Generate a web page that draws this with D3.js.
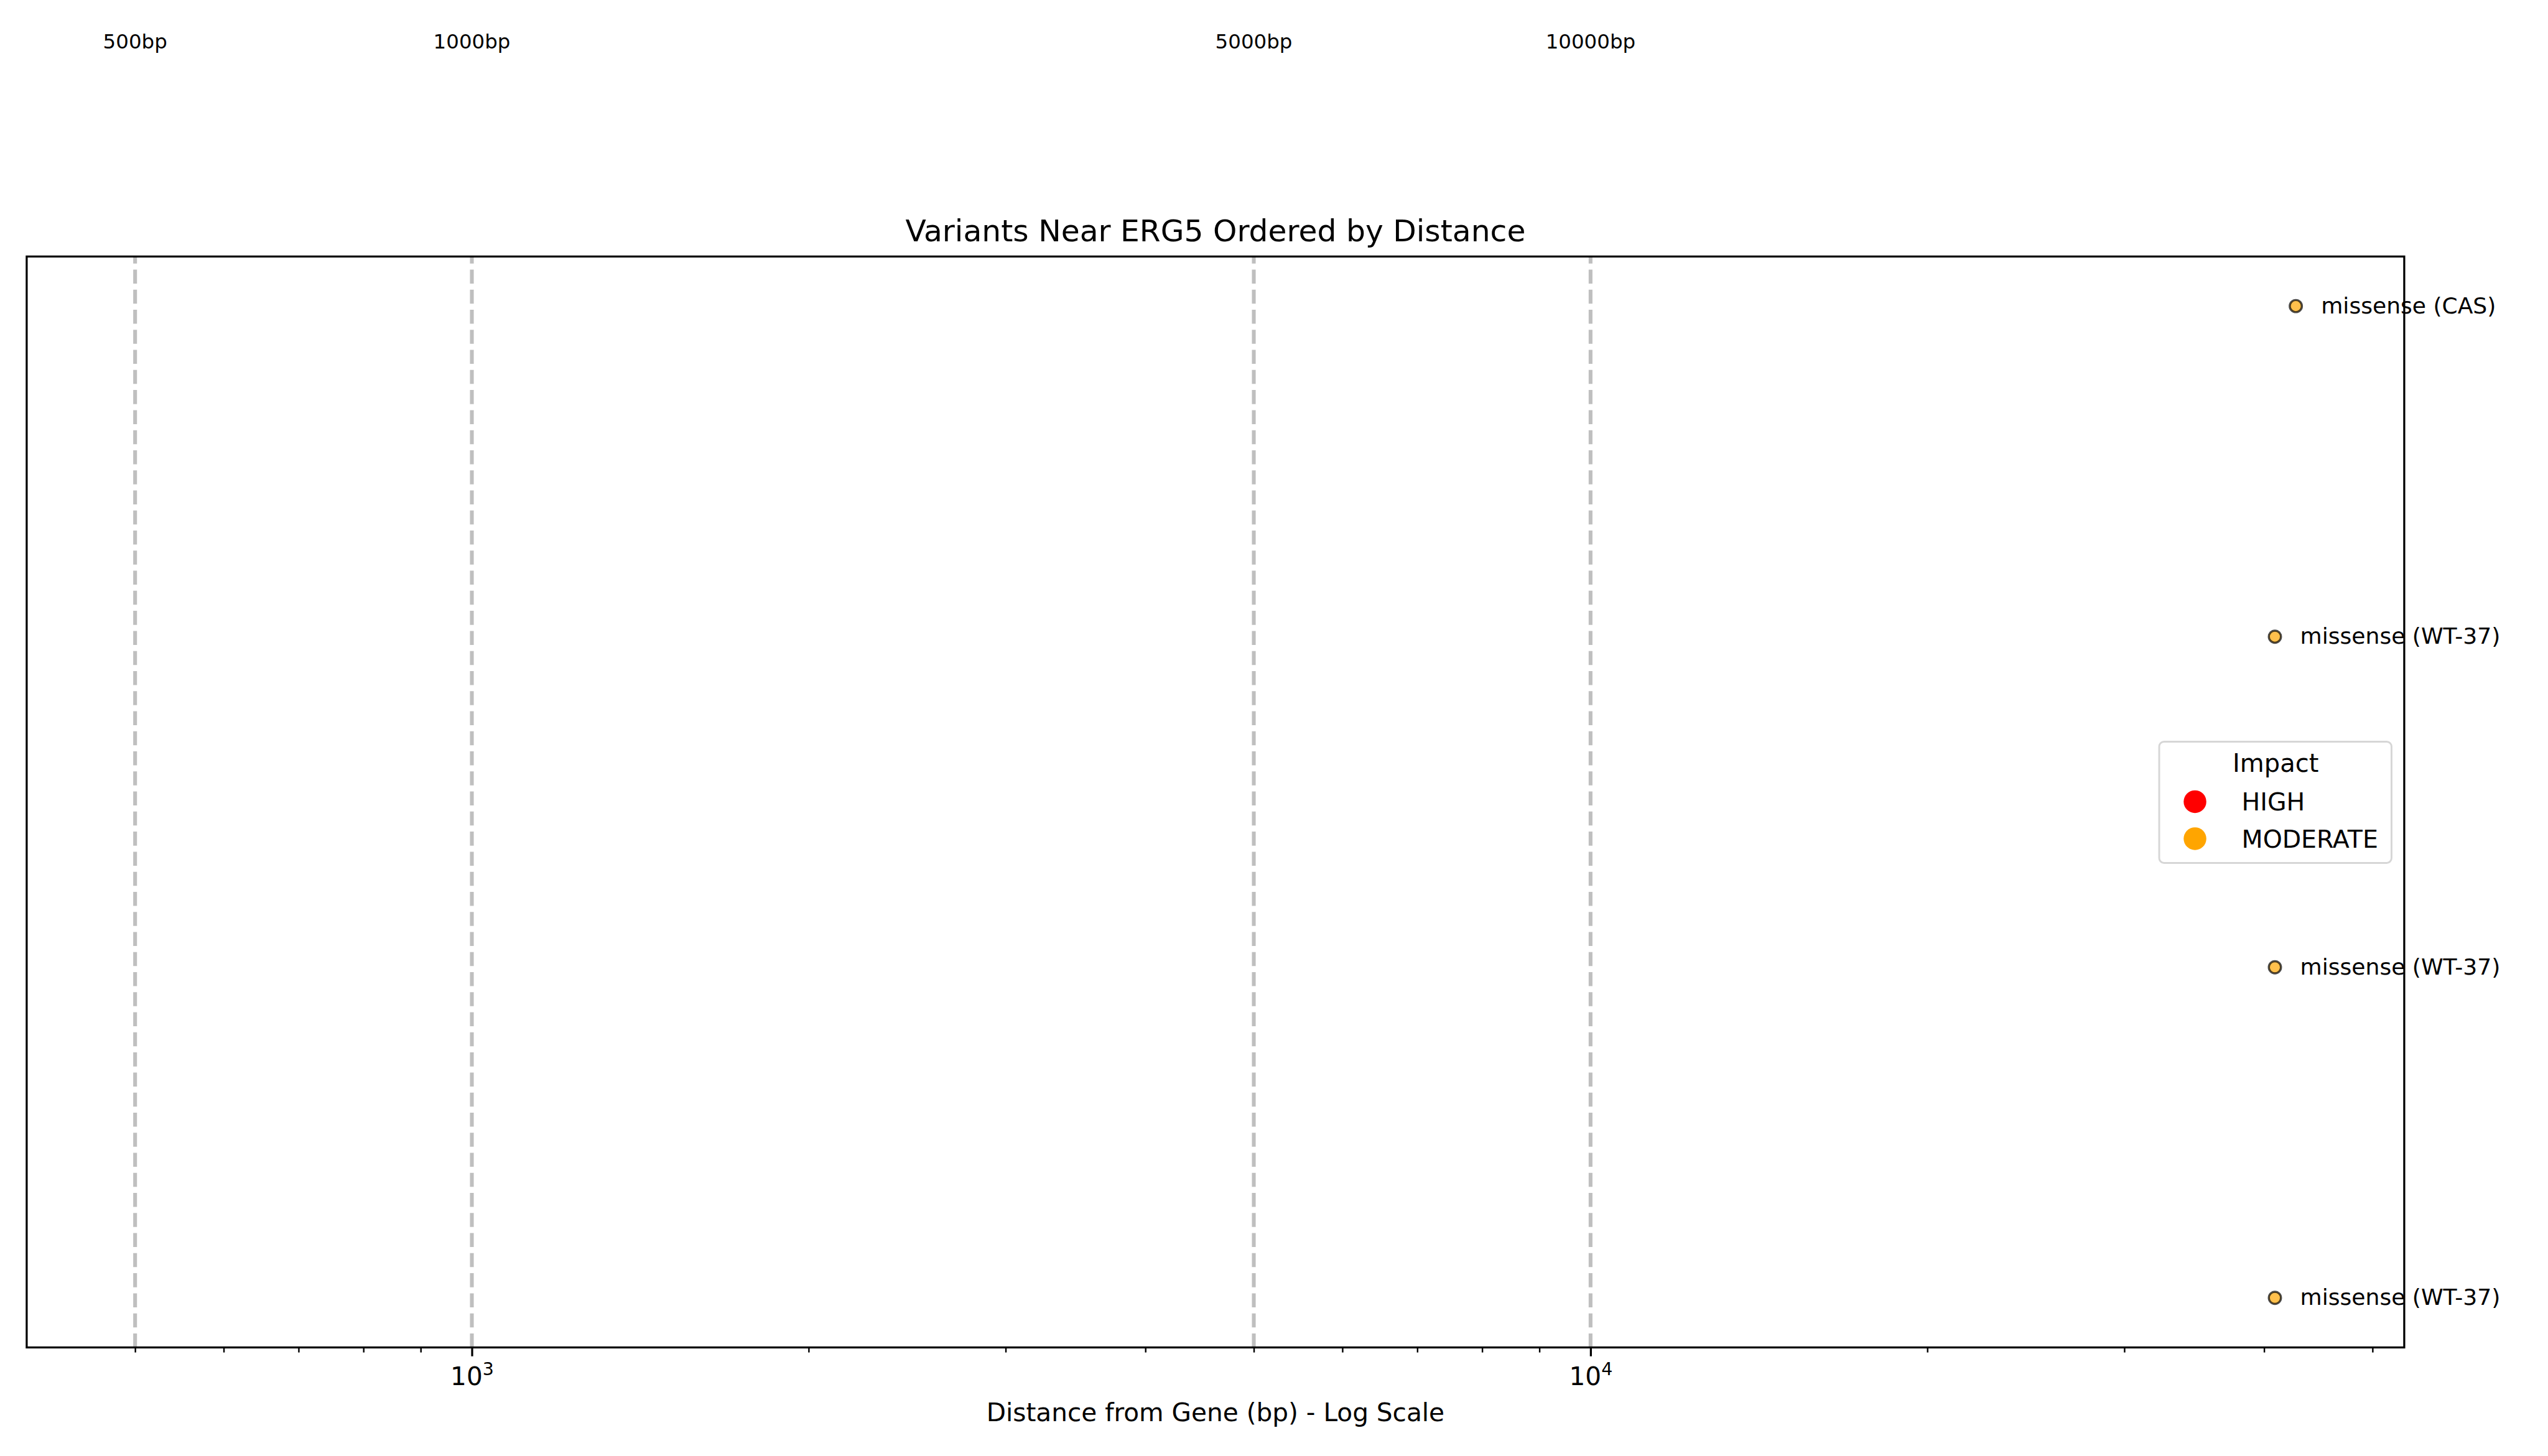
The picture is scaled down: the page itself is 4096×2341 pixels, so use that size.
<!DOCTYPE html>
<html>
<head>
<meta charset="utf-8">
<script src="https://cdn.jsdelivr.net/npm/d3@7"></script>
<style>
  html, body { margin: 0; padding: 0; background: #ffffff; }
  svg { display: block; }
  text { font-family: "DejaVu Sans", sans-serif; fill: #000; }
</style>
</head>
<body>
<script>
// ---- data ----
const variantLabels = ["missense (WT-37)", "missense (WT-37)", "missense (WT-37)", "missense (CAS)"];
const variantDistances = [40900, 40900, 40900, 42700];
const variantImpacts = ["MODERATE", "MODERATE", "MODERATE", "MODERATE"];
const refLineValues = [500, 1000, 5000, 10000];
const refLineLabels = ["500bp", "1000bp", "5000bp", "10000bp"];
const majorTicks = [1000, 10000];
const majorTickExp = ["3", "4"];
const minorTicks = [500, 600, 700, 800, 900, 2000, 3000, 4000, 5000, 6000, 7000, 8000, 9000, 20000, 30000, 40000, 50000];
const impactNames = ["HIGH", "MODERATE"];
const impactColors = ["#ff0000", "#ffa500"];
const xDomain = [400, 53375];

// ---- layout (reference pixel units, scaled by 0.975) ----
const S = 0.975;
const W = 4096, H = 2341;
const plot = { left: 44, right: 3964, top: 423, bottom: 2222 };

const svg = d3.select("body").append("svg").attr("width", W).attr("height", H);
svg.append("rect").attr("width", W).attr("height", H).attr("fill", "#fff");
const g = svg.append("g").attr("transform", `scale(${S})`);

const x = d3.scaleLog().domain(xDomain).range([plot.left, plot.right]);
const y = d3.scaleLinear().domain([-0.15, 3.15]).range([plot.bottom, plot.top]);
const color = d3.scaleOrdinal().domain(impactNames).range(impactColors);

// reference dashed lines
g.selectAll("line.ref").data(refLineValues).enter().append("line")
  .attr("class", "ref")
  .attr("x1", d => x(d)).attr("x2", d => x(d))
  .attr("y1", plot.bottom).attr("y2", plot.top)
  .attr("stroke", "#808080").attr("stroke-opacity", 0.5)
  .attr("stroke-width", 6.25)
  .attr("stroke-dasharray", "23.1,10");

// labels above
g.selectAll("text.reflab").data(refLineValues).enter().append("text")
  .attr("class", "reflab")
  .attr("x", d => x(d)).attr("y", y(3.78))
  .attr("text-anchor", "middle")
  .attr("font-size", 33.3)
  .text((d, i) => refLineLabels[i]);

// x axis: minor ticks
const minorAxis = d3.axisBottom(x).tickValues(minorTicks).tickSize(8.3).tickFormat("");
const gm = g.append("g").attr("transform", `translate(0,${plot.bottom})`).call(minorAxis);
gm.select(".domain").remove();
gm.selectAll(".tick line").attr("stroke", "#000").attr("stroke-width", 2.5);

// major ticks
const majorAxis = d3.axisBottom(x).tickValues(majorTicks).tickSize(14.6).tickFormat("");
const gM = g.append("g").attr("transform", `translate(0,${plot.bottom})`).call(majorAxis);
gM.select(".domain").remove();
gM.selectAll(".tick line").attr("stroke", "#000").attr("stroke-width", 3.33);
gM.selectAll(".tick").each(function(d, i) {
  const t = d3.select(this).append("text")
    .attr("y", 62).attr("text-anchor", "middle")
    .attr("font-size", 41.67).attr("fill", "#000");
  t.append("tspan").text("10");
  t.append("tspan").attr("font-size", 29.2).attr("dy", -16).text(majorTickExp[i]);
});

// points
g.selectAll("circle.pt").data(variantDistances).enter().append("circle")
  .attr("class", "pt")
  .attr("cx", d => x(d)).attr("cy", (d, i) => y(i))
  .attr("r", 10)
  .attr("fill", (d, i) => color(variantImpacts[i])).attr("fill-opacity", 0.7)
  .attr("stroke", "#000").attr("stroke-opacity", 0.7).attr("stroke-width", 3.5);

// point labels
const labFs = 37;
g.selectAll("text.ptlab").data(variantDistances).enter().append("text")
  .attr("class", "ptlab")
  .attr("x", d => x(d) + 41.67).attr("y", (d, i) => y(i) + 0.316 * labFs)
  .attr("font-size", labFs)
  .text((d, i) => variantLabels[i]);

// frame
g.append("rect")
  .attr("x", plot.left).attr("y", plot.top)
  .attr("width", plot.right - plot.left).attr("height", plot.bottom - plot.top)
  .attr("fill", "none").attr("stroke", "#000").attr("stroke-width", 3.33);

// title
g.append("text").attr("x", (plot.left + plot.right) / 2).attr("y", 398)
  .attr("text-anchor", "middle").attr("font-size", 50)
  .text("Variants Near ERG5 Ordered by Distance");

// x label
g.append("text").attr("x", (plot.left + plot.right) / 2).attr("y", 2344)
  .attr("text-anchor", "middle").attr("font-size", 41.67)
  .text("Distance from Gene (bp) - Log Scale");

// legend
const lg = g.append("g");
lg.append("rect").attr("x", 3560).attr("y", 1223).attr("width", 383).attr("height", 200)
  .attr("rx", 8).attr("ry", 8)
  .attr("fill", "#fff").attr("fill-opacity", 0.8)
  .attr("stroke", "#d6d6d6").attr("stroke-width", 3);
lg.append("text").attr("x", 3752).attr("y", 1273).attr("text-anchor", "middle")
  .attr("font-size", 41).text("Impact");
const items = lg.selectAll("g.item").data(impactNames).enter().append("g").attr("class", "item")
  .attr("transform", (d, i) => `translate(0,${1322 + i * 61})`);
items.append("circle").attr("cx", 3619).attr("cy", 0).attr("r", 18.7).attr("fill", d => color(d));
items.append("text").attr("x", 3696).attr("y", 14.5).attr("font-size", 40.5).text(d => d);
</script>
</body>
</html>
